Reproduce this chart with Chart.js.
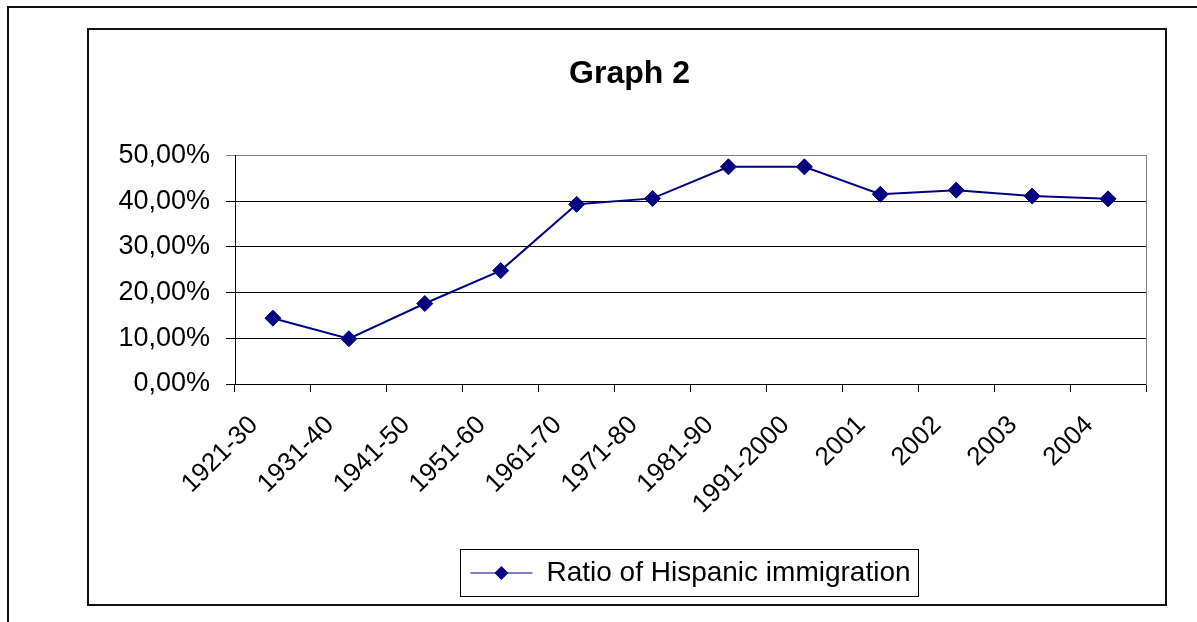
<!DOCTYPE html>
<html>
<head>
<meta charset="utf-8">
<script src="https://cdn.jsdelivr.net/npm/chart.js@4"></script>
<style>
    html, body { margin: 0; padding: 0; background: #fff; }
    #wrap { position: relative; width: 1197px; height: 622px; }
</style>
</head>
<body>
<div id="wrap"><canvas id="graficaHispanos"></canvas></div>
<script>
// Datos de la gráfica
const periodos = ['1921-30', '1931-40', '1941-50', '1951-60', '1961-70', '1971-80',
    '1981-90', '1991-2000', '2001', '2002', '2003', '2004'];
const ratioHispanos = [14.4, 9.9, 17.6, 24.8, 39.3, 40.6, 47.5, 47.5, 41.5, 42.4, 41.1, 40.5];
const nombreSerie = 'Ratio of Hispanic immigration';
const tituloGrafica = 'Graph 2';

const azulMarino = '#000080';

// Marcos exteriores y caja de la leyenda
const marcosPlugin = {
    id: 'marcos',
    beforeDraw(chart) {
        const ctx = chart.ctx;
        ctx.save();
        ctx.fillStyle = '#fff';
        ctx.fillRect(0, 0, chart.width, chart.height);
        ctx.strokeStyle = '#111';
        ctx.lineWidth = 2;
        // marco exterior (solo izquierda y arriba visibles)
        ctx.beginPath();
        ctx.moveTo(8, chart.height);
        ctx.lineTo(8, 7);
        ctx.lineTo(chart.width, 7);
        ctx.stroke();
        // marco de la gráfica
        ctx.strokeRect(88, 29, 1166 - 88, 605 - 29);
        ctx.restore();
    },
    afterDraw(chart) {
        const leyenda = chart.legend;
        if (!leyenda || !leyenda.legendHitBoxes || !leyenda.legendHitBoxes.length) return;
        const hb = leyenda.legendHitBoxes[0];
        const ctx = chart.ctx;
        const boxW = leyenda.options.labels.pointStyleWidth;
        ctx.save();
        // caja
        ctx.strokeStyle = '#000';
        ctx.lineWidth = 1;
        ctx.strokeRect(Math.round(hb.left - 10) + 0.5, 549.5, Math.round(hb.width + 18), 47);
        // rombo sobre la línea
        const cx = hb.left + boxW / 2;
        const cy = hb.top + hb.height / 2;
        const r = 7;
        ctx.fillStyle = azulMarino;
        ctx.beginPath();
        ctx.moveTo(cx - r, cy);
        ctx.lineTo(cx, cy - r);
        ctx.lineTo(cx + r, cy);
        ctx.lineTo(cx, cy + r);
        ctx.closePath();
        ctx.fill();
        ctx.restore();
    }
};

const ctx = document.getElementById('graficaHispanos');

new Chart(ctx, {
    type: 'line',
    data: {
        labels: periodos,
        datasets: [{
            label: nombreSerie,
            data: ratioHispanos,
            borderColor: azulMarino,
            backgroundColor: azulMarino,
            borderWidth: 2,
            pointStyle: 'rectRot',
            pointRadius: 8,
            pointHoverRadius: 8,
            pointBorderWidth: 1,
            tension: 0,
            fill: false
        }]
    },
    options: {
        responsive: true,
        maintainAspectRatio: false,
        animation: false,
        layout: {
            padding: { left: 88, right: 26, top: 0, bottom: 25 }
        },
        scales: {
            x: {
                offset: true,
                grid: {
                    display: true,
                    offset: true,
                    drawOnChartArea: false,
                    color: '#000',
                    tickLength: 8
                },
                border: { display: true, color: '#000', width: 1 },
                ticks: {
                    autoSkip: false,
                    maxRotation: 45,
                    minRotation: 45,
                    padding: 18,
                    labelOffset: -19,
                    color: '#000',
                    font: { family: 'Arial, "Liberation Sans", sans-serif', size: 26 }
                },
                afterFit(scale) { scale.height = 163; }
            },
            y: {
                min: 0,
                max: 50,
                ticks: {
                    stepSize: 10,
                    padding: 16,
                    color: '#000',
                    font: { family: 'Arial, "Liberation Sans", sans-serif', size: 27 },
                    callback: v => v.toFixed(2).replace('.', ',') + '%'
                },
                grid: {
                    color: c => (c.tick && c.tick.value === 50) ? '#808080' : '#000',
                    lineWidth: 1,
                    tickLength: 9
                },
                border: { display: true, color: '#000', width: 1 },
                afterFit(scale) { scale.width = 147; }
            },
            y2: {
                position: 'right',
                display: true,
                grid: { display: false, drawTicks: false },
                ticks: { display: false },
                border: { display: true, color: '#808080', width: 1 },
                afterFit(scale) { scale.width = 25; }
            }
        },
        plugins: {
            title: {
                display: true,
                text: tituloGrafica,
                color: '#000',
                font: { family: 'Arial, "Liberation Sans", sans-serif', size: 32, weight: 'bold' },
                padding: { top: 55, bottom: 62 }
            },
            legend: {
                display: true,
                position: 'bottom',
                fullSize: false,
                labels: {
                    usePointStyle: true,
                    pointStyleWidth: 62,
                    pointStyle: 'line',
                    padding: 12,
                    color: '#000',
                    font: { family: 'Arial, "Liberation Sans", sans-serif', size: 28 }
                }
            },
            tooltip: { enabled: false }
        }
    },
    plugins: [marcosPlugin]
});
</script>
</body>
</html>
